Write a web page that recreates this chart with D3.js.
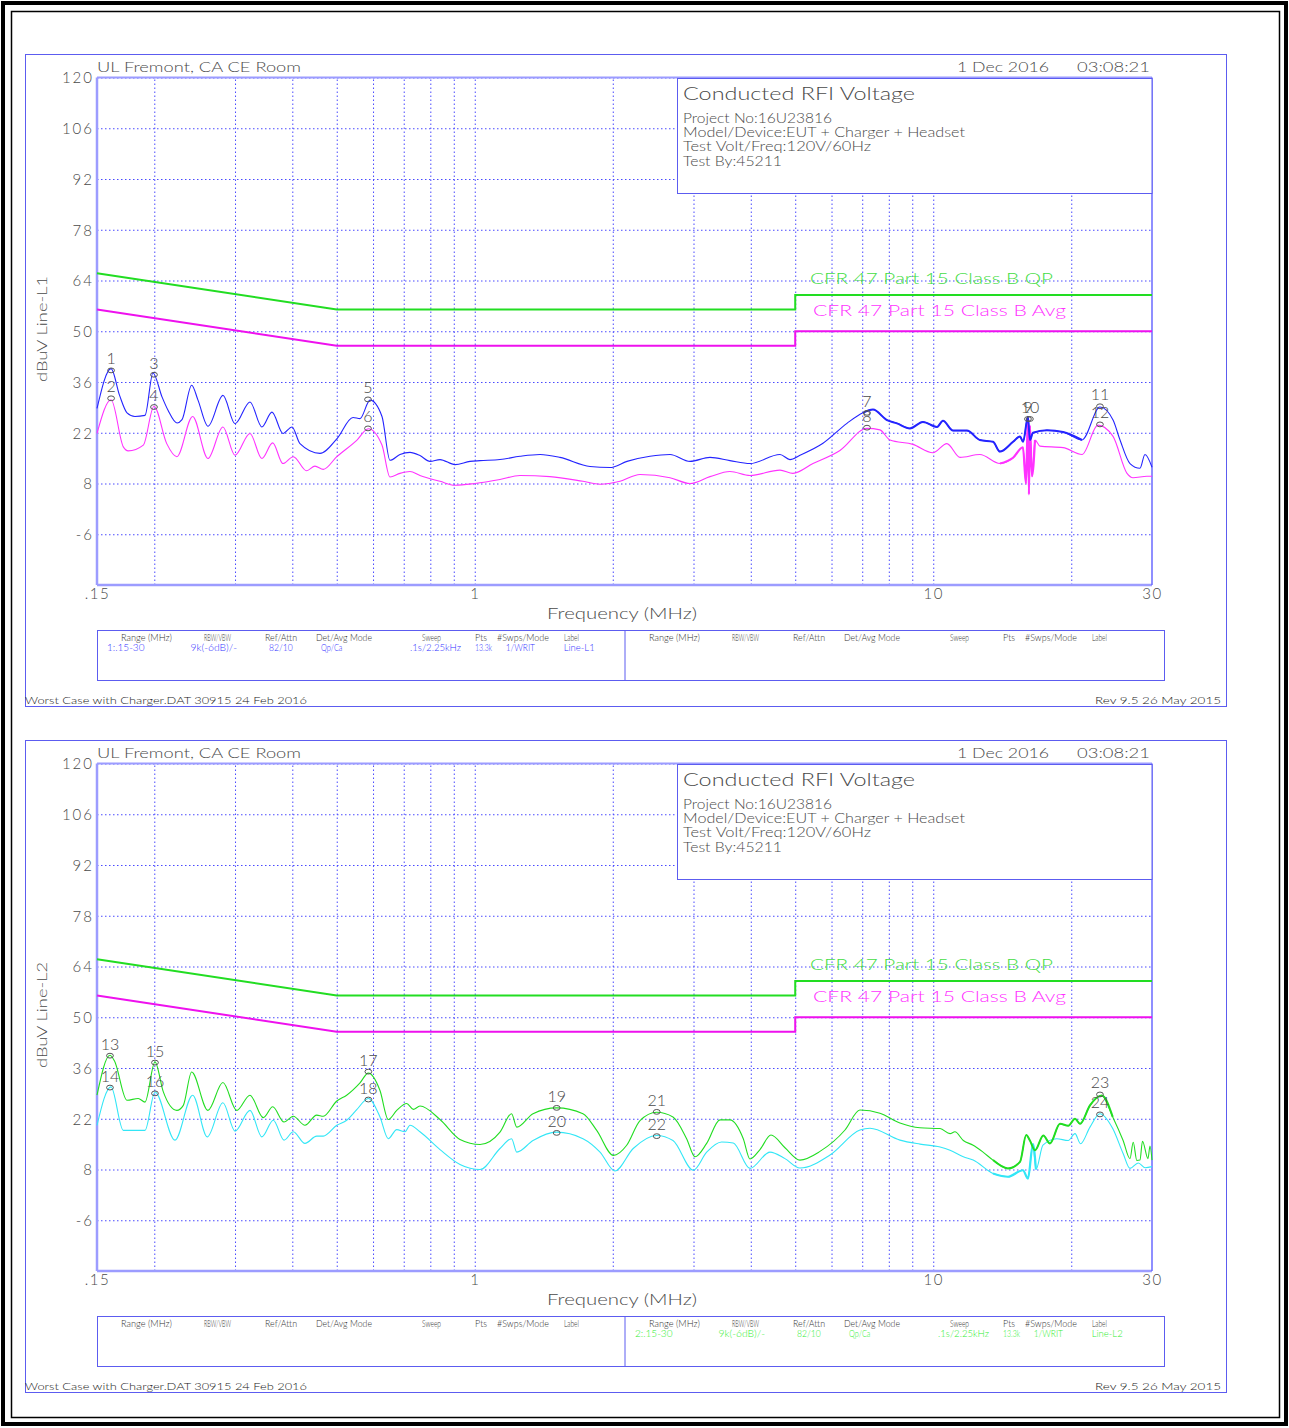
<!DOCTYPE html>
<html>
<head>
<meta charset="utf-8">
<script src="https://cdn.jsdelivr.net/npm/d3@7"></script>
<style>
  body { margin: 0; background: #fff; }
  svg { display: block; }
  text { font-family: Lato, "DejaVu Sans", sans-serif; font-weight: 300; fill: #4a4a4a; }
</style>
</head>
<body>
<svg id="chart" width="1289" height="1428"></svg>
<script>
"use strict";

// ---- data (freq MHz, level dBuV) ----
const gridFreqs = [0.2, 0.3, 0.4, 0.5, 0.6, 0.7, 0.8, 0.9, 1, 2, 3, 4, 5, 6, 7, 8, 9, 10, 20];
const freqTicks = [0.15, 1, 10, 30];
const freqTickLabels = [".15", "1", "10", "30"];
const levelTicks = [120, 106, 92, 78, 64, 50, 36, 22, 8, -6];

const qpLimit = [[0.15, 66], [0.5, 56], [5, 56], [5, 60], [30, 60]];
const avgLimit = [[0.15, 56], [0.5, 46], [5, 46], [5, 50], [30, 50]];

const l1Peak = [
  [0.150, 28.7], [0.161, 39.7], [0.168, 32.3], [0.1744, 27.5], [0.1815, 26.5],
  [0.1909, 26.8], [0.1987, 38.5], [0.2079, 31.9], [0.2143, 28.2], [0.2242, 24.7],
  [0.2299, 25.6], [0.2413, 35.1], [0.2491, 31.0], [0.2619, 23.8], [0.2824, 32.3],
  [0.300, 24.5], [0.3234, 30.5], [0.3433, 23.6], [0.3612, 27.7], [0.3817, 21.8],
  [0.3994, 23.6], [0.4157, 19.0], [0.4597, 16.3], [0.5007, 20.4], [0.5426, 26.2],
  [0.562, 25.9], [0.591, 31.0], [0.6276, 26.5], [0.6533, 14.4], [0.6869, 16.0],
  [0.7223, 16.6], [0.7595, 15.7], [0.7987, 14.1], [0.8399, 14.6], [0.9056, 13.2],
  [0.9765, 14.1], [1.027, 14.3], [1.135, 14.6], [1.255, 15.5], [1.388, 16.0],
  [1.534, 15.2], [1.784, 12.7], [1.972, 12.4], [2.148, 14.1], [2.411, 15.5],
  [2.666, 16.0], [2.948, 14.1], [3.259, 15.2], [3.603, 14.3], [3.984, 13.5],
  [4.632, 16.0], [4.87, 14.6], [5.121, 15.8], [5.748, 19.1], [6.484, 24.6],
  [7.026, 27.5], [7.388, 28.4], [7.925, 25.5], [8.333, 24.6], [8.895, 23.2],
  [9.495, 25.0], [10.19, 23.6], [10.5, 25.3], [11.04, 22.6], [11.84, 22.6],
  [12.64, 20.0], [13.5, 19.5], [13.98, 16.8], [14.93, 19.5], [15.46, 21.0],
  [15.7, 19.5], [16.09, 26.4], [16.25, 20.0], [16.5, 22.0], [17.7, 22.7],
  [19.19, 22.2], [21.11, 20.0], [23.1, 29.1], [24.67, 25.5], [25.55, 20.0],
  [26.86, 13.5], [28.24, 12.2], [28.96, 16.0], [30.0, 12.5]
];

const l1Avg = [
  [0.150, 21.8], [0.161, 31.1], [0.1712, 18.1], [0.1755, 17.0], [0.1893, 18.6],
  [0.1997, 29.3], [0.2129, 19.0], [0.224, 15.4], [0.2425, 26.5], [0.2618, 14.9],
  [0.2823, 23.6], [0.300, 15.8], [0.3234, 21.8], [0.3433, 14.9], [0.3625, 19.2],
  [0.3816, 13.5], [0.402, 15.4], [0.4299, 11.5], [0.4482, 12.8], [0.4673, 11.9],
  [0.5002, 15.4], [0.5528, 19.9], [0.586, 23.1], [0.6275, 18.6], [0.6533, 9.8],
  [0.6869, 10.8], [0.7223, 11.3], [0.7595, 10.2], [0.8399, 8.6], [0.9056, 7.5],
  [1.001, 8.0], [1.135, 9.1], [1.255, 10.2], [1.459, 9.9], [1.722, 8.6],
  [1.876, 7.8], [2.074, 8.6], [2.293, 10.5], [2.666, 9.6], [2.948, 8.0],
  [3.259, 9.9], [3.603, 11.3], [3.984, 10.2], [4.632, 11.7], [4.943, 10.8],
  [5.467, 13.5], [6.26, 17.1], [7.168, 23.2], [7.652, 22.8], [8.046, 20.0],
  [9.03, 18.8], [9.984, 16.5], [10.71, 19.0], [11.44, 15.2], [12.64, 16.0],
  [13.98, 13.5], [14.93, 15.1], [15.69, 18.0], [15.93, 8.0], [16.09, 26.0],
  [16.17, 5.0], [16.25, 24.0], [16.42, 10.0], [16.67, 20.0], [17.09, 18.3],
  [19.19, 17.9], [21.11, 16.0], [22.87, 24.1], [24.67, 21.0], [26.46, 10.8],
  [27.27, 9.6], [29.25, 10.0], [30.0, 10.0]
];

const l2Peak = [
  [0.150, 28.5], [0.1601, 39.5], [0.1637, 38.0], [0.1744, 27.1], [0.1845, 27.6],
  [0.1909, 26.6], [0.2007, 37.7], [0.2093, 29.4], [0.224, 24.3], [0.2314, 25.7],
  [0.2413, 34.9], [0.2618, 24.3], [0.2823, 32.0], [0.3026, 24.3], [0.3234, 28.5],
  [0.3458, 22.3], [0.3625, 25.3], [0.3837, 21.1], [0.402, 22.7], [0.4263, 20.2],
  [0.4522, 23.0], [0.4673, 22.7], [0.5002, 26.9], [0.5256, 28.5], [0.562, 31.9],
  [0.586, 34.6], [0.6213, 29.8], [0.6478, 21.8], [0.6758, 24.3], [0.7104, 26.2],
  [0.7344, 24.6], [0.7595, 25.5], [0.8399, 21.8], [0.9286, 16.3], [1.027, 14.9],
  [1.135, 18.3], [1.203, 23.4], [1.235, 19.7], [1.34, 23.4], [1.509, 25.0],
  [1.722, 23.4], [1.845, 18.8], [2.006, 11.9], [2.145, 14.7], [2.293, 21.5],
  [2.494, 23.8], [2.706, 22.5], [2.898, 16.5], [3.023, 11.5], [3.205, 15.2],
  [3.427, 21.7], [3.603, 21.7], [3.852, 16.5], [3.984, 10.9], [4.189, 13.5],
  [4.427, 17.5], [4.749, 14.0], [5.121, 10.6], [5.662, 13.0], [6.42, 18.9],
  [6.92, 24.4], [7.652, 23.5], [8.46, 20.8], [9.356, 19.5], [10.35, 19.3],
  [10.88, 17.9], [11.15, 18.4], [11.63, 16.0], [12.22, 14.7], [12.84, 12.8],
  [13.5, 10.6], [14.55, 8.3], [15.46, 10.1], [15.95, 17.5], [16.25, 16.0],
  [16.67, 13.3], [17.38, 17.4], [17.97, 15.2], [18.9, 20.6], [19.7, 20.1],
  [20.38, 22.0], [20.9, 20.6], [21.97, 25.7], [23.31, 28.4], [24.63, 22.5],
  [25.95, 16.0], [26.86, 11.0], [27.3, 15.5], [27.8, 10.5], [28.24, 10.6],
  [28.6, 15.8], [29.4, 11.0], [29.7, 14.5], [30.0, 10.6]
];

const l2Avg = [
  [0.150, 20.2], [0.1609, 30.8], [0.1712, 18.8], [0.1909, 18.8], [0.2007, 29.4],
  [0.2219, 16.1], [0.2425, 28.5], [0.261, 17.0], [0.2823, 26.4], [0.300, 18.6],
  [0.3234, 24.3], [0.3433, 17.0], [0.3636, 21.6], [0.3837, 16.1], [0.402, 18.4],
  [0.4263, 15.2], [0.4522, 17.2], [0.4673, 17.2], [0.5002, 20.2], [0.5256, 21.6],
  [0.5528, 24.5], [0.586, 27.6], [0.6213, 22.5], [0.6478, 16.5], [0.6758, 19.0],
  [0.7045, 18.4], [0.7223, 20.2], [0.7595, 18.4], [0.8399, 13.5], [0.9286, 9.4],
  [1.027, 8.0], [1.135, 13.8], [1.203, 16.5], [1.235, 12.8], [1.34, 16.0],
  [1.509, 18.3], [1.722, 16.5], [1.876, 12.8], [2.022, 7.6], [2.216, 13.8],
  [2.494, 17.4], [2.706, 16.0], [2.997, 7.8], [3.205, 12.8], [3.456, 15.6],
  [3.663, 15.3], [3.984, 8.3], [4.404, 12.8], [4.749, 11.0], [5.121, 8.4],
  [5.954, 12.0], [6.921, 18.9], [7.278, 19.4], [8.46, 16.1], [9.356, 15.0],
  [10.35, 14.2], [10.88, 13.3], [11.63, 11.5], [12.22, 10.6], [13.5, 6.9],
  [14.55, 6.0], [15.69, 7.8], [16.09, 5.5], [16.5, 15.0], [16.75, 8.0],
  [17.35, 14.7], [18.59, 16.5], [19.7, 16.0], [20.38, 17.9], [20.95, 15.1],
  [21.97, 19.7], [23.1, 23.4], [24.63, 19.3], [25.95, 12.4], [26.86, 8.3],
  [28.0, 9.8], [29.0, 8.5], [30.0, 8.8]
];

// markers: label, freq, level
const l1Markers = [
  ["1", 0.161, 39.2], ["2", 0.161, 31.5], ["3", 0.1997, 38.0], ["4", 0.1997, 29.1],
  ["5", 0.585, 31.2], ["6", 0.585, 23.2], ["7", 7.17, 27.5], ["8", 7.17, 23.4],
  ["9", 16.09, 25.8], ["10", 16.25, 25.8], ["11", 23.1, 29.3], ["12", 23.1, 24.3]
];
const l2Markers = [
  ["13", 0.1601, 39.4], ["14", 0.1601, 30.6], ["15", 0.2007, 37.5], ["16", 0.2007, 29.0],
  ["17", 0.586, 35.0], ["18", 0.586, 27.3], ["19", 1.509, 25.0], ["20", 1.509, 18.1],
  ["21", 2.494, 23.9], ["22", 2.494, 17.2], ["23", 23.1, 28.7], ["24", 23.1, 23.2]
];

const tableHeads = ["Range (MHz)", "RBW/VBW", "Ref/Attn", "Det/Avg Mode", "Sweep", "Pts", "#Swps/Mode", "Label"];
const l1Settings = ["1:.15-30", "9k(-6dB)/-", "82/10", "Qp/Ca", ".1s/2.25kHz", "13.3k", "1/WRIT", "Line-L1"];
const l2Settings = ["2:.15-30", "9k(-6dB)/-", "82/10", "Qp/Ca", ".1s/2.25kHz", "13.3k", "1/WRIT", "Line-L2"];
const infoLines = ["Project No:16U23816", "Model/Device:EUT + Charger + Headset", "Test Volt/Freq:120V/60Hz", "Test By:45211"];

// ---- layout ----
const frameColor = "#5c5cf0";
const gridColor = "#4a4aff";
const axisColor = "#9c9cff";

const svg = d3.select("#chart");
svg.append("rect").attr("width", 1289).attr("height", 1428).attr("fill", "#fff");
svg.append("rect").attr("x", 3).attr("y", 3).attr("width", 1283).attr("height", 1421)
  .attr("fill", "none").attr("stroke", "#000").attr("stroke-width", 4);
svg.append("rect").attr("x", 11.5).attr("y", 11.5).attr("width", 1268).attr("height", 1406)
  .attr("fill", "none").attr("stroke", "#000").attr("stroke-width", 1.5);

const x = d3.scaleLog().domain([0.15, 30]).range([97, 1152]);
const y = d3.scaleLinear().domain([-20, 120]).range([585, 77.5]);

const line = d3.line()
  .x((d) => x(d[0]))
  .y((d) => y(d[1]))
  .curve(d3.curveMonotoneX);
const limitLine = d3.line().x((d) => x(d[0])).y((d) => y(d[1]));

function txt(g, px, py, s, size, opts = {}) {
  const t = g.append("text")
    .attr("x", px)
    .attr("y", py)
    .attr("font-size", size)
    .attr("text-anchor", opts.anchor || "start")
    .text(s);
  if (opts.fill) t.style("fill", opts.fill);
  if (opts.len) t.attr("textLength", opts.len).attr("lengthAdjust", "spacingAndGlyphs");
  return t;
}

const headX = [121, 204, 265, 316, 422, 475, 497, 564];
const headW = [51, 27, 32, 56, 19, 12, 52, 15];
const dataX = [107, 190.6, 269, 321, 410, 475, 505.7, 563.7];
const dataW = [37.5, 46.4, 23.6, 21.4, 51, 17, 29.3, 31];

function drawPanel(offsetY, p) {
  const g = svg.append("g").attr("transform", `translate(0,${offsetY})`);

  g.append("rect").attr("x", 25.5).attr("y", 54.5).attr("width", 1201).attr("height", 652)
    .attr("fill", "none").attr("stroke", frameColor);

  // vertical grid
  g.append("g")
    .attr("transform", `translate(0,${y(-20)})`)
    .call(d3.axisBottom(x).tickValues(gridFreqs).tickSize(-(y(-20) - y(120))).tickFormat(""))
    .call((a) => a.select(".domain").remove())
    .selectAll("line")
    .attr("stroke", gridColor)
    .attr("stroke-dasharray", "1.5,2.5");

  // horizontal grid + level labels
  const ya = g.append("g")
    .attr("transform", `translate(${x(0.15)},0)`)
    .call(d3.axisLeft(y).tickValues(levelTicks).tickSize(-(x(30) - x(0.15))).tickPadding(3)
      .tickFormat((d) => String(d)));
  ya.select(".domain").remove();
  ya.selectAll("line").attr("stroke", gridColor).attr("stroke-dasharray", "1.5,2.5");
  ya.attr("font-family", null).attr("font-size", null);
  ya.selectAll("text").attr("font-size", 15).attr("letter-spacing", 2).attr("dy", "0.36em")
    .style("fill", "#4a4a4a");

  // freq labels
  const xa = g.append("g")
    .attr("transform", `translate(0,${y(-20)})`)
    .call(d3.axisBottom(x).tickValues(freqTicks).tickSize(0).tickPadding(3)
      .tickFormat((d, i) => freqTickLabels[i]));
  xa.select(".domain").remove();
  xa.attr("font-family", null).attr("font-size", null);
  xa.selectAll("text").attr("font-size", 15).attr("letter-spacing", 1.5).style("fill", "#4a4a4a");

  // plot border
  g.append("line").attr("x1", 97).attr("x2", 97).attr("y1", y(120)).attr("y2", y(-20))
    .attr("stroke", axisColor).attr("stroke-width", 2.5);
  g.append("line").attr("x1", 97).attr("x2", 1152).attr("y1", y(-20)).attr("y2", y(-20))
    .attr("stroke", axisColor).attr("stroke-width", 2.5);
  g.append("line").attr("x1", 97).attr("x2", 1152).attr("y1", y(120)).attr("y2", y(120))
    .attr("stroke", axisColor).attr("stroke-width", 2);
  g.append("line").attr("x1", 1152).attr("x2", 1152).attr("y1", y(120)).attr("y2", y(-20))
    .attr("stroke", "#6a6aff").attr("stroke-width", 1.5);

  // info box
  g.append("rect").attr("x", 677.5).attr("y", 78.5).attr("width", 474.5).attr("height", 115)
    .attr("fill", "#fff").attr("stroke", frameColor);
  txt(g, 683, 99.5, "Conducted RFI Voltage", 17, { len: 232 });
  const infoW = [149, 282, 188, 99];
  infoLines.forEach((s, i) => txt(g, 683, 123 + i * 14.2, s, 13, { len: infoW[i] }));

  // header texts
  txt(g, 97, 72, "UL Fremont, CA CE Room", 14, { len: 204 });
  txt(g, 957, 72, "1 Dec 2016", 14, { len: 92 });
  txt(g, 1077, 72, "03:08:21", 14, { len: 73 });

  // axis titles
  txt(g, 547, 619, "Frequency (MHz)", 15, { len: 150 });
  g.append("text")
    .attr("transform", `translate(47,${p.labelY}) rotate(-90)`)
    .attr("text-anchor", "middle")
    .attr("font-size", 13)
    .attr("textLength", 106)
    .attr("lengthAdjust", "spacingAndGlyphs")
    .text(p.yLabel);

  // limits
  g.append("path").datum(qpLimit).attr("d", limitLine).attr("fill", "none")
    .attr("stroke", "#22dd22").attr("stroke-width", 2);
  g.append("path").datum(avgLimit).attr("d", limitLine).attr("fill", "none")
    .attr("stroke", "#ee11ee").attr("stroke-width", 2);
  txt(g, 810, 284, "CFR 47 Part 15 Class B QP", 15, { len: 243, fill: "#44dd44" });
  txt(g, 813, 316, "CFR 47 Part 15 Class B Avg", 15, { len: 253, fill: "#ff33ff" });

  // traces
  g.append("path").datum(p.avg).attr("d", line).attr("fill", "none")
    .attr("stroke", p.avgColor).attr("stroke-width", 1.1);
  g.append("path").datum(p.peak).attr("d", line).attr("fill", "none")
    .attr("stroke", p.peakColor).attr("stroke-width", 1.1);
  // the dense (noisy) part of the sweeps draws as a thicker trace
  g.append("path").datum(p.avg.filter((d) => d[0] >= p.avgDense[0] && d[0] <= p.avgDense[1]))
    .attr("d", line).attr("fill", "none").attr("stroke", p.avgColor).attr("stroke-width", 2.2);
  g.append("path").datum(p.peak.filter((d) => d[0] >= p.peakDense[0] && d[0] <= p.peakDense[1]))
    .attr("d", line).attr("fill", "none").attr("stroke", p.peakColor).attr("stroke-width", 2);

  // markers
  p.markers.forEach((m) => {
    g.append("ellipse").attr("cx", x(m[1])).attr("cy", y(m[2])).attr("rx", 3.4).attr("ry", 2.4)
      .attr("fill", "none").attr("stroke", "#555").attr("stroke-width", 1);
    txt(g, x(m[1]), y(m[2]) - 6, m[0], 16, { anchor: "middle" });
  });

  // settings table
  g.append("rect").attr("x", 97.5).attr("y", 630.5).attr("width", 1067).attr("height", 50)
    .attr("fill", "none").attr("stroke", frameColor);
  g.append("line").attr("x1", 625).attr("x2", 625).attr("y1", 630.5).attr("y2", 680.5)
    .attr("stroke", frameColor);
  [0, 528].forEach((dx) => {
    tableHeads.forEach((s, i) => txt(g, headX[i] + dx, 640.5, s, 9, { len: headW[i], fill: "#333" }));
  });
  p.settings.forEach((s, i) =>
    txt(g, dataX[i] + p.settingsDx, 650.5, s, 9, { len: dataW[i], fill: p.settingsColor }));

  // footer
  txt(g, 25, 704, "Worst Case with Charger.DAT 30915 24 Feb 2016", 10, { len: 282, fill: "#222" });
  txt(g, 1221, 704, "Rev 9.5 26 May 2015", 10, { anchor: "end", len: 126, fill: "#222" });
}

drawPanel(0, {
  peak: l1Peak, avg: l1Avg, markers: l1Markers,
  peakColor: "#2424ff", avgColor: "#ff33ff",
  peakDense: [7, 22], avgDense: [13.5, 17],
  yLabel: "dBuV Line-L1", labelY: 329,
  settings: l1Settings, settingsDx: 0, settingsColor: "#3333ff"
});

drawPanel(686, {
  peak: l2Peak, avg: l2Avg, markers: l2Markers,
  peakColor: "#22dd22", avgColor: "#33e6f6",
  peakDense: [13.5, 25.5], avgDense: [13.5, 17],
  yLabel: "dBuV Line-L2", labelY: 329,
  settings: l2Settings, settingsDx: 528, settingsColor: "#33ee33"
});
</script>
</body>
</html>
